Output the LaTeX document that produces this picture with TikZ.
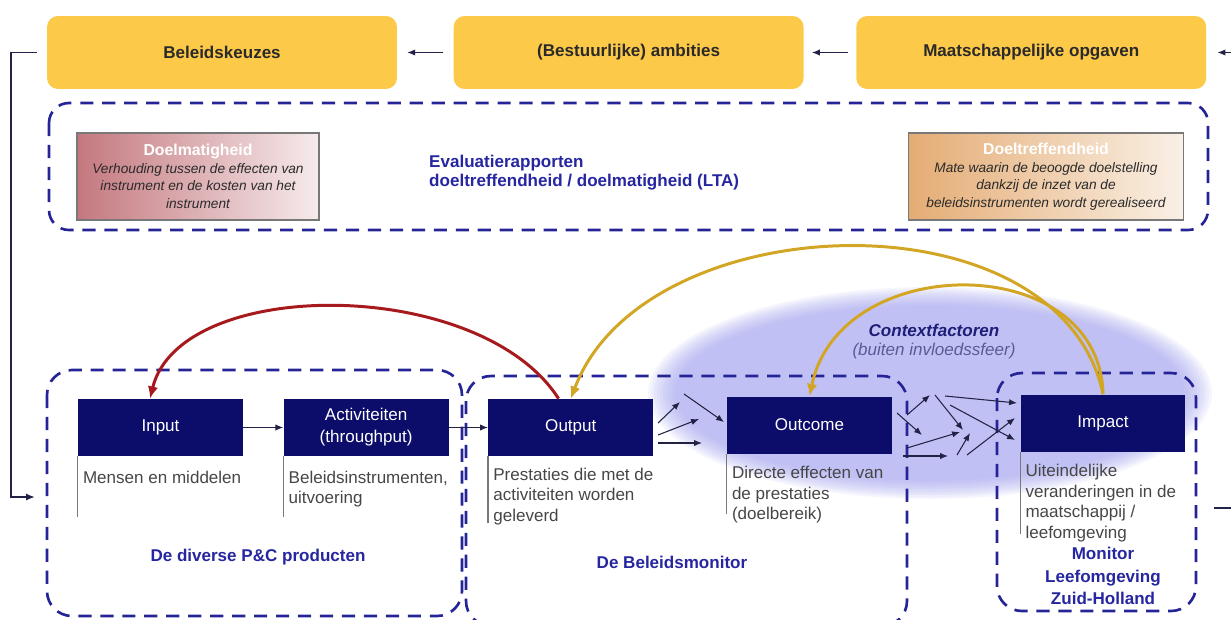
\documentclass[tikz,border=0pt]{standalone}
\usepackage{fontspec}
\setmainfont{Liberation Sans}
\usepackage{xcolor}
\usepackage{tikz}
\usetikzlibrary{positioning,arrows.meta}

\definecolor{geel}{RGB}{253,201,72}
\definecolor{donkerblauw}{RGB}{12,12,106}
\definecolor{streepblauw}{RGB}{36,36,150}
\definecolor{tekstblauw}{RGB}{38,38,160}
\definecolor{contextblauw}{RGB}{30,30,120}
\definecolor{grijsblauw}{RGB}{90,90,150}
\definecolor{rood}{RGB}{166,26,30}
\definecolor{goud}{RGB}{210,166,36}
\definecolor{gloed}{RGB}{160,160,238}
\definecolor{roze}{RGB}{196,120,126}
\definecolor{perzik}{RGB}{228,172,116}
\definecolor{donker}{RGB}{42,42,42}
\definecolor{grijs}{RGB}{70,70,70}
\definecolor{lijngrijs}{RGB}{120,120,120}
\definecolor{pijlkleur}{RGB}{34,34,70}

\tikzset{
  geelbox/.style={rectangle, rounded corners=0.22cm, fill=geel, text=donker,
    minimum width=7cm, minimum height=1.46cm,
    font=\fontsize{9.7}{11.6}\selectfont\bfseries},
  blok/.style={rectangle, fill=donkerblauw, text=white, align=center,
    minimum width=3.3cm, minimum height=1.14cm, inner sep=0pt,
    font=\fontsize{9.7}{12.5}\selectfont},
  uitleg/.style={align=left, inner sep=0pt, text=grijs,
    font=\fontsize{9.7}{11.7}\selectfont},
  kader/.style={draw=streepblauw, line width=1.5pt,
    dash pattern=on 7.5pt off 5pt, rounded corners=0.45cm},
  kadertekst/.style={text=tekstblauw, align=center,
    font=\fontsize{9.7}{12.8}\selectfont\bfseries},
  evalbox/.style={rectangle, draw=lijngrijs, line width=0.8pt, align=center,
    minimum height=1.74cm, inner sep=0pt, text=donker,
    font=\fontsize{7.8}{10}\selectfont\itshape},
  pijl/.style={draw=pijlkleur, line width=0.6pt, -{Latex[length=4.5pt,width=3.6pt]}},
  terug/.style={draw=pijlkleur, line width=1pt, -{Latex[length=5pt,width=4pt]}},
  boog/.style={line width=1.7pt, -{Latex[length=7pt,width=6pt]}},
}

\begin{document}
\begin{tikzpicture}[x=0.02cm,y=-0.02cm]
  \useasboundingbox (0,0) rectangle (1231,619);
  \clip (0,0) rectangle (1231,619);

    % gloed contextfactoren
    \foreach \k in {0,...,9}
      \fill[gloed, opacity=0.1] (930,393) ellipse [x radius=282-3*\k, y radius=106-2*\k];

    % top
    \node[geelbox] (beleid) at (222,52.5) {Beleidskeuzes};
    \node[geelbox, right=1.12cm of beleid] (ambit) {(Bestuurlijke) ambities};
    \node[geelbox, right=1.04cm of ambit] (maats) {Maatschappelijke opgaven};

    \draw[pijl] ([xshift=-0.2cm]ambit.west) -- ([xshift=0.2cm]beleid.east);
    \draw[pijl] ([xshift=-0.16cm]maats.west) -- ([xshift=0.16cm]ambit.east);
    \coordinate (rechtsin) at (1231,52.5);
    \draw[pijl] (rechtsin) -- ([xshift=0.22cm]maats.east);

    % LTA
    \draw[kader, rounded corners=0.4cm] (49,103) rectangle (1208,230);
    \node[evalbox, left color=roze, right color=roze!15, minimum width=4.84cm] (doelm) at (198,176.5)
      {{\fontsize{9}{10}\selectfont\bfseries\upshape\color{white}Doelmatigheid}\\
       Verhouding tussen de effecten van\\instrument en de kosten van het\\instrument};
    \node[evalbox, left color=perzik, right color=perzik!18, minimum width=5.5cm] (doeltr) at (1046,176.5)
      {{\fontsize{9}{10}\selectfont\bfseries\upshape\color{white}Doeltreffendheid}\\
       Mate waarin de beoogde doelstelling\\dankzij de inzet van de\\beleidsinstrumenten wordt gerealiseerd};
    \node[text=tekstblauw, align=left, anchor=west, font=\fontsize{9.7}{10.9}\selectfont\bfseries] (lta) at (423,173)
      {Evaluatierapporten\\doeltreffendheid / doelmatigheid (LTA)};

    % kaders
    \draw[kader, rounded corners=0.5cm] (47,370) rectangle (462,616);
    \draw[kader, rounded corners=0.5cm] (466,376) rectangle (907,626);
    \draw[kader, rounded corners=0.5cm] (997,373) rectangle (1196,611);

    % blokken
    \node[blok] (input) at (160.5,427.5) {Input};
    \node[blok, right=0.8cm of input] (activ) {Activiteiten\\(throughput)};
    \node[blok, right=0.78cm of activ] (output) {Output};
    \node[blok] (outcome) at (809.5,425) {Outcome};
    \node[blok] (impact) at (1103,423) {Impact};

    \draw[pijl] (input) -- (activ);
    \draw[pijl] (activ) -- (output);

    % |
    \draw[lijngrijs, line width=0.7pt] (input.south west) -- ++(0,61);
    \draw[lijngrijs, line width=0.7pt] (activ.south west) -- ++(0,61);
    \draw[lijngrijs, line width=0.7pt] (output.south west) -- ++(0,67);
    \draw[lijngrijs, line width=0.7pt] (outcome.south west) -- ++(0,60);
    \draw[lijngrijs, line width=0.7pt] (impact.south west) -- ++(0,82);

    % uitleg
    \node[uitleg, below right=0.28cm and 0.1cm of input.south west] (inputtekst) {Mensen en middelen};
    \node[uitleg, below right=0.28cm and 0.1cm of activ.south west] (activtekst) {Beleidsinstrumenten,\\uitvoering};
    \node[uitleg, below right=0.22cm and 0.1cm of output.south west] (outputtekst) {Prestaties die met de\\activiteiten worden\\geleverd};
    \node[uitleg, below right=0.24cm and 0.1cm of outcome.south west] (outcometekst) {Directe effecten van\\de prestaties\\(doelbereik)};
    \node[uitleg, below right=0.24cm and 0.1cm of impact.south west] (impacttekst) {Uiteindelijke\\veranderingen in de\\maatschappij /\\leefomgeving};

    % label
    \node[kadertekst] (pclabel) at (258,557) {De diverse P\&C producten};
    \node[kadertekst] (bmlabel) at (672,562) {De Beleidsmonitor};
    \node[kadertekst] (mlzh) at (1103,576) {Monitor\\Leefomgeving\\Zuid-Holland};
    \node[text=contextblauw, font=\fontsize{9.7}{11}\selectfont\bfseries\itshape] (context) at (934,330) {Contextfactoren};
    \node[text=grijsblauw, font=\fontsize{9.7}{11}\selectfont\itshape] (buiten) at (934,351) {(buiten invloedssfeer)};

    % output -> outcome
    \draw[pijl] (658,423) -- (680,402);
    \draw[pijl] (658,435) -- (699,419);
    \draw[pijl] (658,443) -- (702,443);
    \draw[pijl] (684,394) -- (724,422);
    % outcome -> impact
    \draw[pijl] (897,413) -- (922,435);
    \draw[pijl] (907,415) -- (930,395);
    \draw[pijl] (935,395) -- (963,430);
    \draw[pijl] (945,396) -- (1017,403);
    \draw[pijl] (950,405) -- (1015,440);
    \draw[pijl] (907,448) -- (960,432);
    \draw[pijl] (903,456) -- (948,456);
    \draw[pijl] (957,455) -- (970,433);
    \draw[pijl] (967,455) -- (1015,418);

    % bogen
    \draw[boog, rood] (output.113) .. controls (480,276) and (180,276) .. (input.110);
    \draw[boog, goud] (impact.north) .. controls (1060,190) and (644,204) .. (output.north);
    \draw[boog, goud] (impact.north) .. controls (1100,250) and (840,250) .. (outcome.north);

    % terugkoppeling
    \coordinate (pcin) at (35,497);
    \draw[terug] ([xshift=-0.2cm]beleid.west) -- ++(-26,0) |- (pcin);
    \coordinate (impuit) at (1214,508);
    \coordinate (rechtsuit) at (1231,508);
    \draw[terug, -] (impuit) -- (rechtsuit);
\end{tikzpicture}
\end{document}
